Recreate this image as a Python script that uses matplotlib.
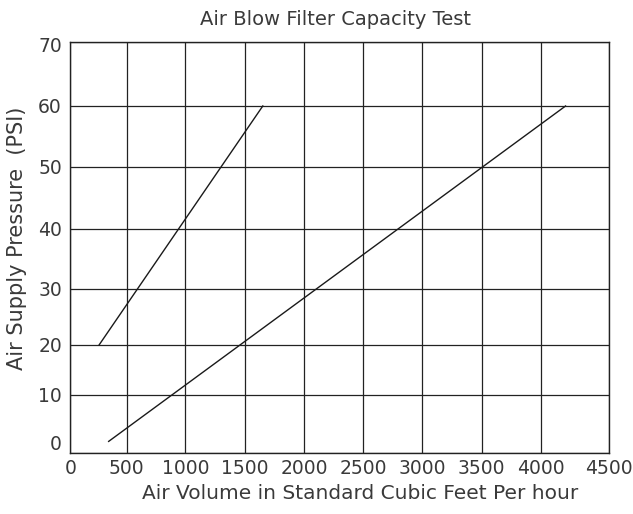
"""Air Blow Filter Capacity Test: air supply pressure vs air volume for two
filter sizes. The scanned original has slightly uneven grid spacing, so both
axes use a piecewise scale fitted to where its grid lines sit."""
import matplotlib
matplotlib.use("Agg")
import matplotlib.pyplot as plt
import matplotlib.transforms as mtransforms
import numpy as np

# data
small_cfh = [255, 1650]
small_psi = [20, 60]
large_cfh = [340, 4180]
large_psi = [2, 60]

x_ticks = [0, 500, 1000, 1500, 2000, 2500, 3000, 3500, 4000, 4500]
y_ticks = [0, 10, 20, 30, 40, 50, 60, 70]

# where each grid line sits in the scan (pixels from the axis origin)
x_knots = [0, 56.4, 115.0, 174.7, 234.0, 293.0, 352.0, 411.4, 471.0, 538.4]
y_knots = [0, 58, 108, 164, 224, 286, 347, 411]


def piecewise(ticks, knots):
    fwd = lambda v: np.interp(v, ticks, knots)
    inv = lambda v: np.interp(v, knots, ticks)
    return fwd, inv


plt.rcParams["font.family"] = ["DejaVu Sans"]
TEXT_COLOR = "#3a3a3a"
fig = plt.figure(figsize=(6.33, 5.14), dpi=100)
ax = fig.add_axes([70.3 / 633, 61 / 514, 538.4 / 633, 411 / 514])

ax.set_xscale("function", functions=piecewise(x_ticks, x_knots))
ax.set_yscale("function", functions=piecewise(y_ticks, y_knots))

ax.plot(small_cfh, small_psi, color="#1a1a1a", lw=1.0)
ax.plot(large_cfh, large_psi, color="#1a1a1a", lw=1.0)

ax.set_xlim(0, 4500)
ax.set_ylim(0, 70)
ax.set_xticks(x_ticks)
ax.set_yticks(y_ticks)
ax.set_xticklabels([str(t) for t in x_ticks])
ax.set_yticklabels([str(t) for t in y_ticks])
ax.grid(True, color="#222222", lw=0.9)
ax.tick_params(length=0, labelsize=13.5, colors=TEXT_COLOR)
ax.tick_params(axis="x", pad=4)
ax.tick_params(axis="y", pad=6)
for s in ax.spines.values():
    s.set_color("#222222")
    s.set_linewidth(1.0)

# the scan prints "0" and "70" a little inside the frame
labels = ax.get_yticklabels()
labels[0].set_transform(labels[0].get_transform()
                        + mtransforms.ScaledTranslation(0, 10 / 100, fig.dpi_scale_trans))
labels[-1].set_transform(labels[-1].get_transform()
                         + mtransforms.ScaledTranslation(0, -3 / 100, fig.dpi_scale_trans))

ax.set_title("Air Blow Filter Capacity Test", fontsize=14, color=TEXT_COLOR,
             x=0.492, y=1.022)
ax.set_xlabel("Air Volume in Standard Cubic Feet Per hour", fontsize=14.5,
              color=TEXT_COLOR)
ax.xaxis.set_label_coords(0.538, -0.075)
ax.set_ylabel("Air Supply Pressure  (PSI)", fontsize=15, color=TEXT_COLOR)
ax.yaxis.set_label_coords(-0.080, 0.523)

fig.savefig("out.png", dpi=100)
